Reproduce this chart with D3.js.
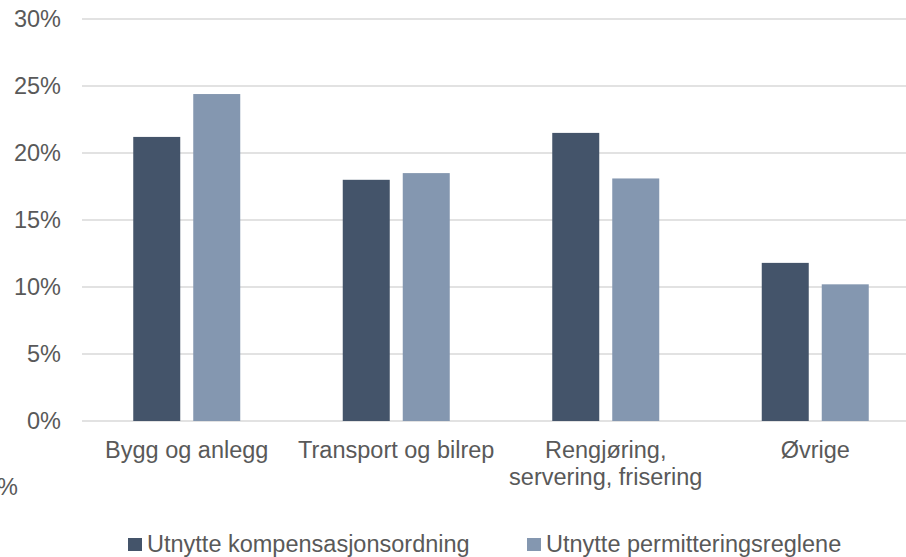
<!DOCTYPE html>
<html>
<head>
<meta charset="utf-8">
<script src="https://cdn.jsdelivr.net/npm/d3@7"></script>
<style>
  html, body { margin: 0; padding: 0; background: #fff; }
  svg { display: block; font-family: "Liberation Sans", Arial, sans-serif; }
</style>
</head>
<body>
<svg id="chart" width="906" height="557"></svg>
<script>
// Industry categories (label lines) and the two series shares
const categories = [
  ["Bygg og anlegg"],
  ["Transport og bilrep"],
  ["Rengjøring,", "servering, frisering"],
  ["Øvrige"]
];
const seriesNames = ["Utnytte kompensasjonsordning", "Utnytte permitteringsreglene"];
const kompensasjon = [0.212, 0.180, 0.215, 0.118];
const permittering = [0.244, 0.185, 0.181, 0.102];
const yTicks = [0, 0.05, 0.10, 0.15, 0.20, 0.25, 0.30];

const colors = ["#44546A", "#8497B0"];
const textColor = "#595959";
const fontSize = 23.5;

const svg = d3.select("#chart");

const plot = { left: 82, right: 920, top: 19, bottom: 421 };

const catKeys = categories.map((c, i) => i);
const x = d3.scaleBand().domain(catKeys).range([plot.left, plot.right]).paddingInner(0).paddingOuter(0);
const groupWidth = 107;
const xInner = d3.scaleBand().domain([0, 1]).range([0, groupWidth]).paddingInner(0.2167).paddingOuter(0);
const y = d3.scaleLinear().domain([0, 0.3]).range([plot.bottom, plot.top]);

// Horizontal gridlines
svg.append("g")
  .selectAll("line")
  .data(yTicks)
  .join("line")
  .attr("x1", plot.left)
  .attr("x2", 906)
  .attr("y1", d => y(d))
  .attr("y2", d => y(d))
  .attr("stroke", "#D9D9D9")
  .attr("stroke-width", 1.4);

// Y axis labels
const fmt = d3.format(".0%");
svg.append("g")
  .selectAll("text")
  .data(yTicks)
  .join("text")
  .attr("x", 61)
  .attr("y", d => y(d))
  .attr("dy", "0.35em")
  .attr("text-anchor", "end")
  .attr("fill", textColor)
  .attr("font-size", fontSize)
  .text(d => fmt(d));

// Bars
const rows = catKeys.map(i => ({ i, values: [kompensasjon[i], permittering[i]] }));
const groups = svg.append("g")
  .selectAll("g")
  .data(rows)
  .join("g")
  .attr("transform", d => `translate(${x(d.i) + (x.bandwidth() - groupWidth) / 2},0)`);

groups.selectAll("rect")
  .data(d => d.values.map((v, s) => ({ v, s })))
  .join("rect")
  .attr("x", d => xInner(d.s))
  .attr("width", xInner.bandwidth())
  .attr("y", d => y(d.v))
  .attr("height", d => y(0) - y(d.v))
  .attr("fill", d => colors[d.s]);

// Category labels
const catLabels = svg.append("g")
  .selectAll("text")
  .data(rows)
  .join("text")
  .attr("x", d => x(d.i) + x.bandwidth() / 2)
  .attr("y", 458)
  .attr("text-anchor", "middle")
  .attr("fill", textColor)
  .attr("font-size", fontSize);
catLabels.selectAll("tspan")
  .data(d => categories[d.i])
  .join("tspan")
  .attr("x", function () { return d3.select(this.parentNode).attr("x"); })
  .attr("dy", (d, k) => k === 0 ? 0 : 27)
  .text(d => d);

// Partial label at the left edge
svg.append("text")
  .attr("x", 18)
  .attr("y", 495)
  .attr("text-anchor", "end")
  .attr("fill", textColor)
  .attr("font-size", fontSize)
  .text("%");

// Legend
const legendPos = [128, 527];
const legend = svg.append("g")
  .selectAll("g")
  .data(seriesNames)
  .join("g")
  .attr("transform", (d, i) => `translate(${legendPos[i]},0)`);
legend.append("rect")
  .attr("x", 0)
  .attr("y", 538)
  .attr("width", 14)
  .attr("height", 13)
  .attr("fill", (d, i) => colors[i]);
legend.append("text")
  .attr("x", 19)
  .attr("y", 552)
  .attr("fill", textColor)
  .attr("font-size", fontSize)
  .text(d => d);
</script>
</body>
</html>
